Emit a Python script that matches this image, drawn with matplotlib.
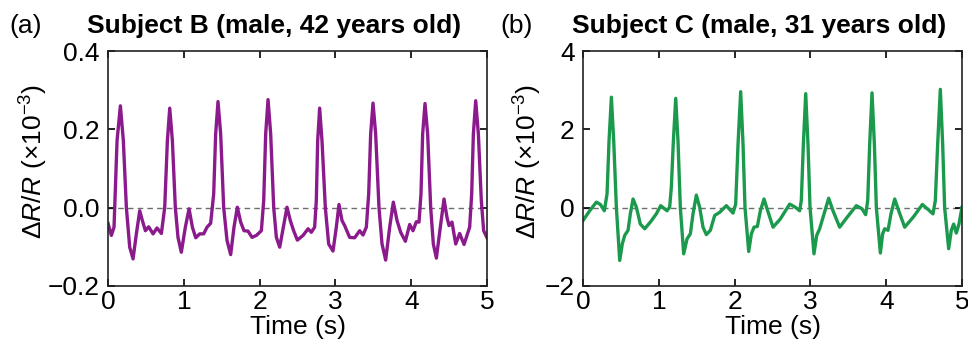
import numpy as np
import matplotlib
matplotlib.use('Agg')
import matplotlib.pyplot as plt

plt.rcParams['font.family'] = ['Liberation Sans', 'DejaVu Sans']
plt.rcParams['mathtext.fontset'] = 'custom'
plt.rcParams['mathtext.rm'] = 'Liberation Sans'
plt.rcParams['mathtext.it'] = 'Liberation Sans:italic'
plt.rcParams['axes.unicode_minus'] = True

# subject B (time in s, dR/R in 1e-3)
t_b = [0.000, 0.044, 0.079, 0.119, 0.163, 0.202, 0.242, 0.286, 0.330, 0.374,
       0.418, 0.453, 0.493, 0.536, 0.594, 0.646, 0.704, 0.748, 0.783, 0.814,
       0.849, 0.888, 0.923, 0.967, 1.020, 1.069, 1.113, 1.157, 1.209, 1.262,
       1.306, 1.354, 1.394, 1.420, 1.451, 1.486, 1.526, 1.570, 1.618, 1.662,
       1.706, 1.750, 1.794, 1.847, 1.900, 1.957, 2.023, 2.054, 2.080, 2.111,
       2.146, 2.186, 2.221, 2.265, 2.313, 2.361, 2.405, 2.449, 2.498, 2.573,
       2.639, 2.682, 2.726, 2.748, 2.766, 2.792, 2.823, 2.867, 2.911, 2.968,
       3.012, 3.047, 3.087, 3.122, 3.188, 3.254, 3.320, 3.364, 3.408, 3.439,
       3.465, 3.496, 3.531, 3.575, 3.615, 3.663, 3.716, 3.764, 3.813, 3.861,
       3.923, 3.980, 4.024, 4.068, 4.103, 4.129, 4.151, 4.182, 4.217, 4.257,
       4.292, 4.332, 4.384, 4.433, 4.472, 4.499, 4.538, 4.587, 4.639, 4.697,
       4.771, 4.798, 4.820, 4.851, 4.886, 4.925, 4.956, 5.000]
v_b = [-0.040, -0.071, -0.050, 0.171, 0.260, 0.171, 0.000, -0.101, -0.131, -0.067,
       -0.008, -0.033, -0.059, -0.049, -0.067, -0.052, -0.066, 0.001, 0.171, 0.254,
       0.171, 0.000, -0.076, -0.114, -0.050, -0.003, -0.050, -0.077, -0.067, -0.067,
       -0.050, -0.040, 0.035, 0.188, 0.271, 0.188, 0.000, -0.084, -0.120, -0.050,
       0.001, -0.037, -0.059, -0.060, -0.076, -0.071, -0.059, 0.018, 0.188, 0.276,
       0.188, 0.000, -0.076, -0.101, -0.050, 0.001, -0.033, -0.059, -0.083, -0.071,
       -0.054, -0.063, -0.050, 0.018, 0.171, 0.254, 0.171, 0.000, -0.093, -0.111,
       -0.050, 0.008, -0.033, -0.046, -0.076, -0.077, -0.059, -0.070, -0.050, 0.035,
       0.188, 0.267, 0.188, 0.000, -0.093, -0.134, -0.050, 0.014, -0.033, -0.063,
       -0.086, -0.043, -0.059, -0.036, -0.037, 0.035, 0.188, 0.266, 0.188, 0.000,
       -0.093, -0.129, -0.050, 0.022, -0.025, -0.046, -0.037, -0.093, -0.066, -0.094,
       -0.050, 0.035, 0.188, 0.273, 0.188, 0.018, -0.059, -0.077]

# subject C
t_c = [0.000, 0.088, 0.176, 0.229, 0.281, 0.317, 0.343, 0.374, 0.405, 0.440,
       0.484, 0.519, 0.550, 0.594, 0.624, 0.660, 0.704, 0.756, 0.814, 0.888,
       0.967, 1.025, 1.108, 1.143, 1.165, 1.192, 1.223, 1.253, 1.284, 1.328,
       1.372, 1.416, 1.451, 1.495, 1.539, 1.583, 1.627, 1.680, 1.737, 1.803,
       1.891, 1.979, 2.014, 2.045, 2.080, 2.111, 2.137, 2.186, 2.221, 2.256,
       2.300, 2.340, 2.388, 2.436, 2.507, 2.603, 2.726, 2.801, 2.858, 2.880,
       2.907, 2.938, 2.968, 2.995, 3.047, 3.083, 3.122, 3.166, 3.241, 3.298,
       3.386, 3.483, 3.606, 3.681, 3.729, 3.756, 3.782, 3.813, 3.844, 3.870,
       3.923, 3.953, 3.980, 4.024, 4.063, 4.112, 4.165, 4.244, 4.362, 4.477,
       4.560, 4.617, 4.648, 4.679, 4.714, 4.745, 4.771, 4.824, 4.859, 4.890,
       4.925, 4.960, 5.000]
v_c = [-0.33, -0.08, 0.14, 0.08, -0.08, 0.35, 1.70, 2.82, 1.70, 0.00,
       -1.35, -0.92, -0.71, -0.58, -0.16, 0.22, 0.01, -0.42, -0.54, -0.37,
       -0.16, 0.05, -0.08, 0.01, 0.52, 1.70, 2.79, 1.70, 0.00, -1.18,
       -0.80, -0.67, -0.16, 0.32, 0.01, -0.50, -0.69, -0.58, -0.20, -0.12,
       0.05, -0.14, 0.09, 1.62, 2.96, 1.62, 0.00, -1.12, -0.67, -0.50,
       -0.48, -0.08, 0.22, -0.08, -0.50, -0.29, 0.09, 0.01, -0.08, 0.18,
       1.62, 2.91, 1.62, 0.00, -1.18, -0.71, -0.54, -0.25, 0.24, -0.08,
       -0.50, -0.25, 0.05, -0.03, -0.18, 0.18, 1.62, 2.93, 1.62, 0.00,
       -1.16, -0.67, -0.54, -0.58, -0.16, 0.22, -0.08, -0.50, -0.23, 0.08,
       -0.06, -0.16, 0.18, 1.62, 3.02, 1.62, 0.00, -1.05, -0.58, -0.42,
       -0.65, -0.42, 0.01]

panels = [
    dict(t=t_b, v=v_b, color='#8b1a8c', ylim=(-0.2, 0.4), yticks=[-0.2, 0.0, 0.2, 0.4],
         fmt='{:.1f}', tag='(a)', title='Subject B (male, 42 years old)',
         left=0.1116, tagx=0.010, titlex=0.090, labx=-0.153),
    dict(t=t_c, v=v_c, color='#1b9a4e', ylim=(-2, 4), yticks=[-2, 0, 2, 4],
         fmt='{:.0f}', tag='(b)', title='Subject C (male, 31 years old)',
         left=0.6023, tagx=0.517, titlex=0.591, labx=-0.103),
]

fig = plt.figure(figsize=(9.68, 3.47), dpi=100)

for p in panels:
    ax = fig.add_axes([p['left'], 0.176, 0.3915, 0.677])
    ax.axhline(0, color='#6e6e6e', lw=1.0, ls=(0, (4, 3)), zorder=1)
    ax.plot(p['t'], p['v'], color=p['color'], lw=2.4, solid_joinstyle='round', zorder=2)
    ax.set_xlim(0, 5)
    ax.set_ylim(*p['ylim'])
    ax.set_xticks(range(6))
    ax.set_yticks(p['yticks'])
    ax.set_yticklabels([p['fmt'].format(y).replace('-', '\u2212') for y in p['yticks']])
    ax.tick_params(direction='in', top=True, right=True, length=5, width=1.2,
                   labelsize=19, pad=3)
    ax.tick_params(axis='y', pad=6)
    for s in ax.spines.values():
        s.set_linewidth(1.2)
        s.set_color('#222222')
    ax.set_xlabel('Time (s)', fontsize=19, labelpad=1)
    ax.set_ylabel(r'$\Delta R/R$ (×10$^{-3}$)', fontsize=19)
    ax.yaxis.set_label_coords(p['labx'], 0.53)
    fig.text(p['tagx'], 0.905, p['tag'], fontsize=19, va='baseline')
    fig.text(p['titlex'], 0.905, p['title'], fontsize=19, fontweight='bold', va='baseline')

fig.savefig('out.png', dpi=100)
